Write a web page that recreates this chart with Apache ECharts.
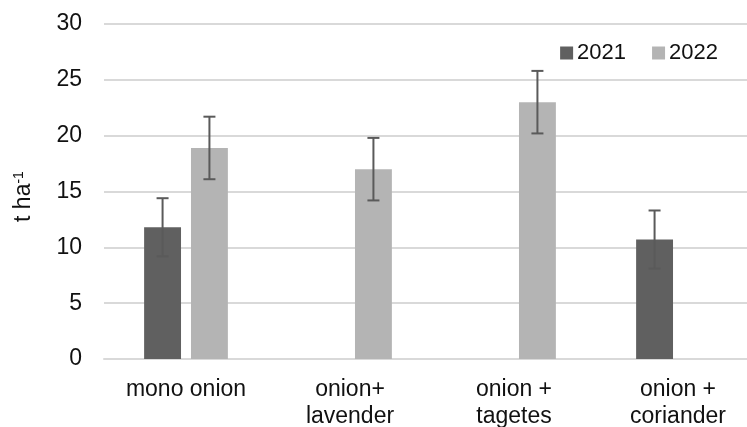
<!DOCTYPE html>
<html>
<head>
<meta charset="utf-8">
<script src="https://cdn.jsdelivr.net/npm/echarts@6/dist/echarts.min.js"></script>
<style>
  html, body { margin: 0; padding: 0; background: #fff; }
  #chart { width: 747px; height: 427px; }
</style>
</head>
<body>
<div id="chart"></div>
<script>
const categories = ['mono onion', 'onion+\nlavender', 'onion +\ntagetes', 'onion +\ncoriander'];
const values2021 = [11.8, null, null, 10.7];
const values2022 = [18.9, 17.0, 23.0, null];
const err2021 = [2.6, null, null, 2.6];
const err2022 = [2.8, 2.8, 2.8, null];

const barColors = ['#606060', '#b4b4b4'];
const errColor = '#5a5a5a';
const barWidthPct = 0.225;
const barGapPct = 0.27;

function errorSeries(values, errs, side) {
  const data = values.map((v, i) => (v == null ? null : [i, v, errs[i]])).filter(d => d);
  return {
    type: 'custom',
    silent: true,
    z: 10,
    data: data,
    renderItem: function (params, api) {
      const idx = api.value(0);
      const v = api.value(1);
      const e = api.value(2);
      const catW = api.size([1, 0])[0];
      const bw = catW * barWidthPct;
      const off = side * (bw + bw * barGapPct) / 2;
      const top = api.coord([idx, v + e]);
      const bot = api.coord([idx, v - e]);
      const x = top[0] + off;
      const cap = 6;
      const style = { stroke: errColor, lineWidth: 2, fill: null };
      return {
        type: 'group',
        children: [
          { type: 'line', shape: { x1: x, y1: top[1], x2: x, y2: bot[1] }, style: style },
          { type: 'line', shape: { x1: x - cap, y1: top[1], x2: x + cap, y2: top[1] }, style: style },
          { type: 'line', shape: { x1: x - cap, y1: bot[1], x2: x + cap, y2: bot[1] }, style: style }
        ]
      };
    }
  };
}

const chart = echarts.init(document.getElementById('chart'));
chart.setOption({
  animation: false,
  textStyle: { fontFamily: 'Liberation Sans, Arial, sans-serif' },
  grid: {
    left: 104, width: 656, top: 24, bottom: 68,
    containLabel: false,
    outerBoundsMode: 'none'
  },
  legend: {
    right: 24,
    top: 37,
    itemWidth: 13,
    itemHeight: 13,
    itemGap: 26,
    icon: 'rect',
    textStyle: { fontSize: 22, color: '#111', padding: [0, 0, 0, -1] },
    data: ['2021', '2022']
  },
  xAxis: {
    type: 'category',
    data: categories,
    axisLine: { lineStyle: { color: '#d9d9d9', width: 2 } },
    axisTick: { show: false },
    axisLabel: { fontSize: 23, color: '#111', lineHeight: 27, margin: 17, interval: 0 }
  },
  yAxis: {
    type: 'value',
    min: 0,
    max: 30,
    interval: 5,
    name: 't ha{sup|-1}',
    nameLocation: 'middle',
    nameGap: 68,
    nameRotate: 90,
    nameTextStyle: {
      fontSize: 23,
      color: '#111',
      padding: [0, 10, 0, 0],
      rich: { sup: { fontSize: 14, verticalAlign: 'top', color: '#111', padding: [0, 0, 10, 0] } }
    },
    axisLine: { show: false },
    axisTick: { show: false },
    axisLabel: { fontSize: 23, color: '#111', margin: 22 },
    splitLine: { lineStyle: { color: '#d9d9d9', width: 2 } }
  },
  series: [
    {
      name: '2021',
      type: 'bar',
      data: values2021,
      barWidth: (barWidthPct * 100) + '%',
      barGap: (barGapPct * 100) + '%',
      itemStyle: { color: barColors[0] }
    },
    {
      name: '2022',
      type: 'bar',
      data: values2022,
      barWidth: (barWidthPct * 100) + '%',
      itemStyle: { color: barColors[1] }
    },
    errorSeries(values2021, err2021, -1),
    errorSeries(values2022, err2022, 1)
  ]
});
</script>
</body>
</html>
